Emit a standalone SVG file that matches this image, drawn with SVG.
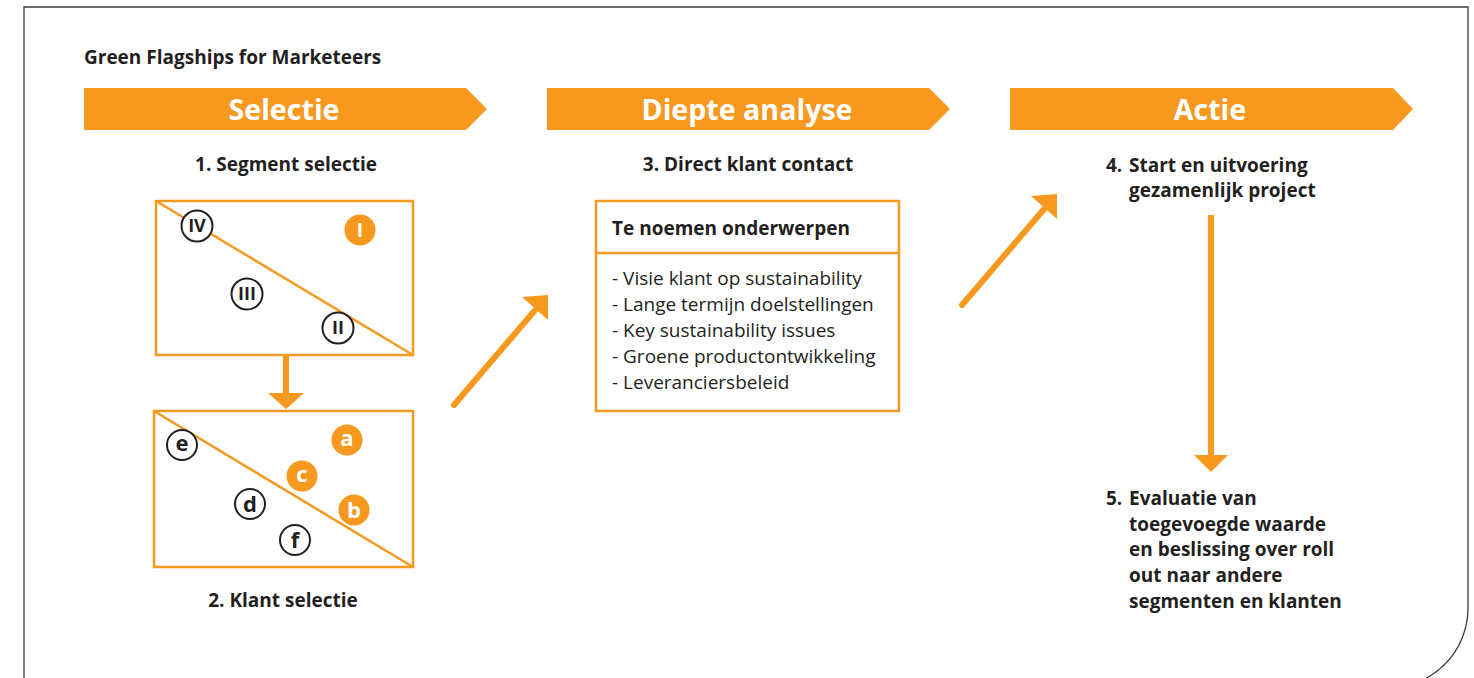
<svg xmlns="http://www.w3.org/2000/svg" width="1474" height="678" viewBox="0 0 1474 678">
<defs>
<style>
.frame{fill:none;stroke:#3a3a3a;stroke-width:1.3}
.banner{fill:#F7991F}
.bt{font-family:"Open Sans","Liberation Sans",sans-serif;font-weight:bold;font-size:28.6px;fill:#fff;text-anchor:middle}
.h{font-family:"Open Sans","Liberation Sans",sans-serif;font-weight:bold;font-size:19px;fill:#231F20}
.t{font-family:"Open Sans","Liberation Sans",sans-serif;font-size:19px;fill:#231F20}
.box{fill:#fff;stroke:#F7991F;stroke-width:2.5}
.diag{stroke:#F7991F;stroke-width:2.5;fill:none}
.co{fill:#fff;stroke:#231F20;stroke-width:2}
.cf{fill:#F7991F}
.ct{font-family:"Open Sans","Liberation Sans",sans-serif;font-weight:bold;font-size:18px;fill:#231F20;text-anchor:middle}
.cw{font-family:"Open Sans","Liberation Sans",sans-serif;font-weight:bold;font-size:19px;fill:#fff;text-anchor:middle}
.lt{font-family:"Open Sans","Liberation Sans",sans-serif;font-weight:bold;font-size:22px;fill:#231F20;text-anchor:middle}
.lw{font-family:"Open Sans","Liberation Sans",sans-serif;font-weight:bold;font-size:22px;fill:#fff;text-anchor:middle}
.line{stroke:#F7991F;stroke-width:6;stroke-linecap:round;fill:none}
.head{fill:#F7991F}
</style>
</defs>
<path class="frame" d="M24 678 V7 H1468 V608 A80 80 0 0 1 1388 688"/>
<text class="h" x="84" y="64">Green Flagships for Marketeers</text>

<g id="banner-selectie">
<polygon class="banner" points="84,88 466,88 487,109 466,130 84,130"/>
<text class="bt" x="284" y="120">Selectie</text>
</g>
<g id="banner-diepte">
<polygon class="banner" points="547,88 929,88 950,109 929,130 547,130"/>
<text class="bt" x="747" y="120">Diepte analyse</text>
</g>
<g id="banner-actie">
<polygon class="banner" points="1010,88 1393,88 1413,109 1393,130 1010,130"/>
<text class="bt" x="1210" y="120">Actie</text>
</g>

<g id="segment">
<text class="h" x="286" y="171" text-anchor="middle">1. Segment selectie</text>
<rect class="box" x="156" y="201" width="257" height="154"/>
<line class="diag" x1="156" y1="201" x2="413" y2="355"/>
<circle class="co" cx="197" cy="226" r="15.5"/>
<text class="ct" x="197" y="232">IV</text>
<circle class="cf" cx="360" cy="230" r="15.5"/>
<text class="cw" x="360" y="237">I</text>
<circle class="co" cx="247" cy="294" r="15.5"/>
<text class="ct" x="247" y="300">III</text>
<circle class="co" cx="338" cy="328" r="15.5"/>
<text class="ct" x="338" y="334">II</text>
</g>

<g id="klant">
<rect class="box" x="154" y="411" width="259" height="156"/>
<line class="diag" x1="154" y1="411" x2="413" y2="567"/>
<circle class="co" cx="182" cy="445" r="15"/>
<text class="lt" x="182" y="451">e</text>
<circle class="cf" cx="347" cy="440" r="15.5"/>
<text class="lw" x="347" y="446">a</text>
<circle class="cf" cx="302" cy="476" r="15.5"/>
<text class="lw" x="302" y="482">c</text>
<circle class="co" cx="250" cy="504" r="15"/>
<text class="lt" x="250" y="512">d</text>
<circle class="cf" cx="354" cy="510" r="15.5"/>
<text class="lw" x="354" y="518">b</text>
<circle class="co" cx="295" cy="540" r="15"/>
<text class="lt" x="295" y="548">f</text>
<text class="h" x="283" y="607" text-anchor="middle">2. Klant selectie</text>
</g>

<g id="contact">
<text class="h" x="748" y="171" text-anchor="middle">3. Direct klant contact</text>
<rect class="box" x="596" y="201" width="303" height="210"/>
<line class="diag" x1="596" y1="253" x2="899" y2="253"/>
<text class="h" x="612" y="235">Te noemen onderwerpen</text>
<text class="t" x="612" y="285">- Visie klant op sustainability</text>
<text class="t" x="612" y="311">- Lange termijn doelstellingen</text>
<text class="t" x="612" y="337">- Key sustainability issues</text>
<text class="t" x="612" y="363">- Groene productontwikkeling</text>
<text class="t" x="612" y="389">- Leveranciersbeleid</text>
</g>

<g id="actie4">
<text class="h" x="1106" y="172">4.</text>
<text class="h" x="1129" y="172">Start en uitvoering</text>
<text class="h" x="1129" y="197">gezamenlijk project</text>
</g>

<g id="actie5">
<text class="h" x="1106" y="505">5.</text>
<text class="h" x="1129" y="505">Evaluatie van</text>
<text class="h" x="1129" y="531">toegevoegde waarde</text>
<text class="h" x="1129" y="556">en beslissing over roll</text>
<text class="h" x="1129" y="582">out naar andere</text>
<text class="h" x="1129" y="608">segmenten en klanten</text>
</g>

<g id="connectors">
<line class="line" x1="286" y1="356" x2="286" y2="395" style="stroke-linecap:butt"/>
<polygon class="head" points="268,393 304,393 286,409"/>
<line class="line" x1="454" y1="405" x2="536" y2="309"/>
<polygon class="head" points="548,295 548,320 522,297"/>
<line class="line" x1="962" y1="305" x2="1045" y2="208"/>
<polygon class="head" points="1057,194 1057,219 1031,196"/>
<line class="line" x1="1211" y1="215" x2="1211" y2="457" style="stroke-linecap:butt"/>
<polygon class="head" points="1194,455 1228,455 1211,472"/>
</g>
</svg>
